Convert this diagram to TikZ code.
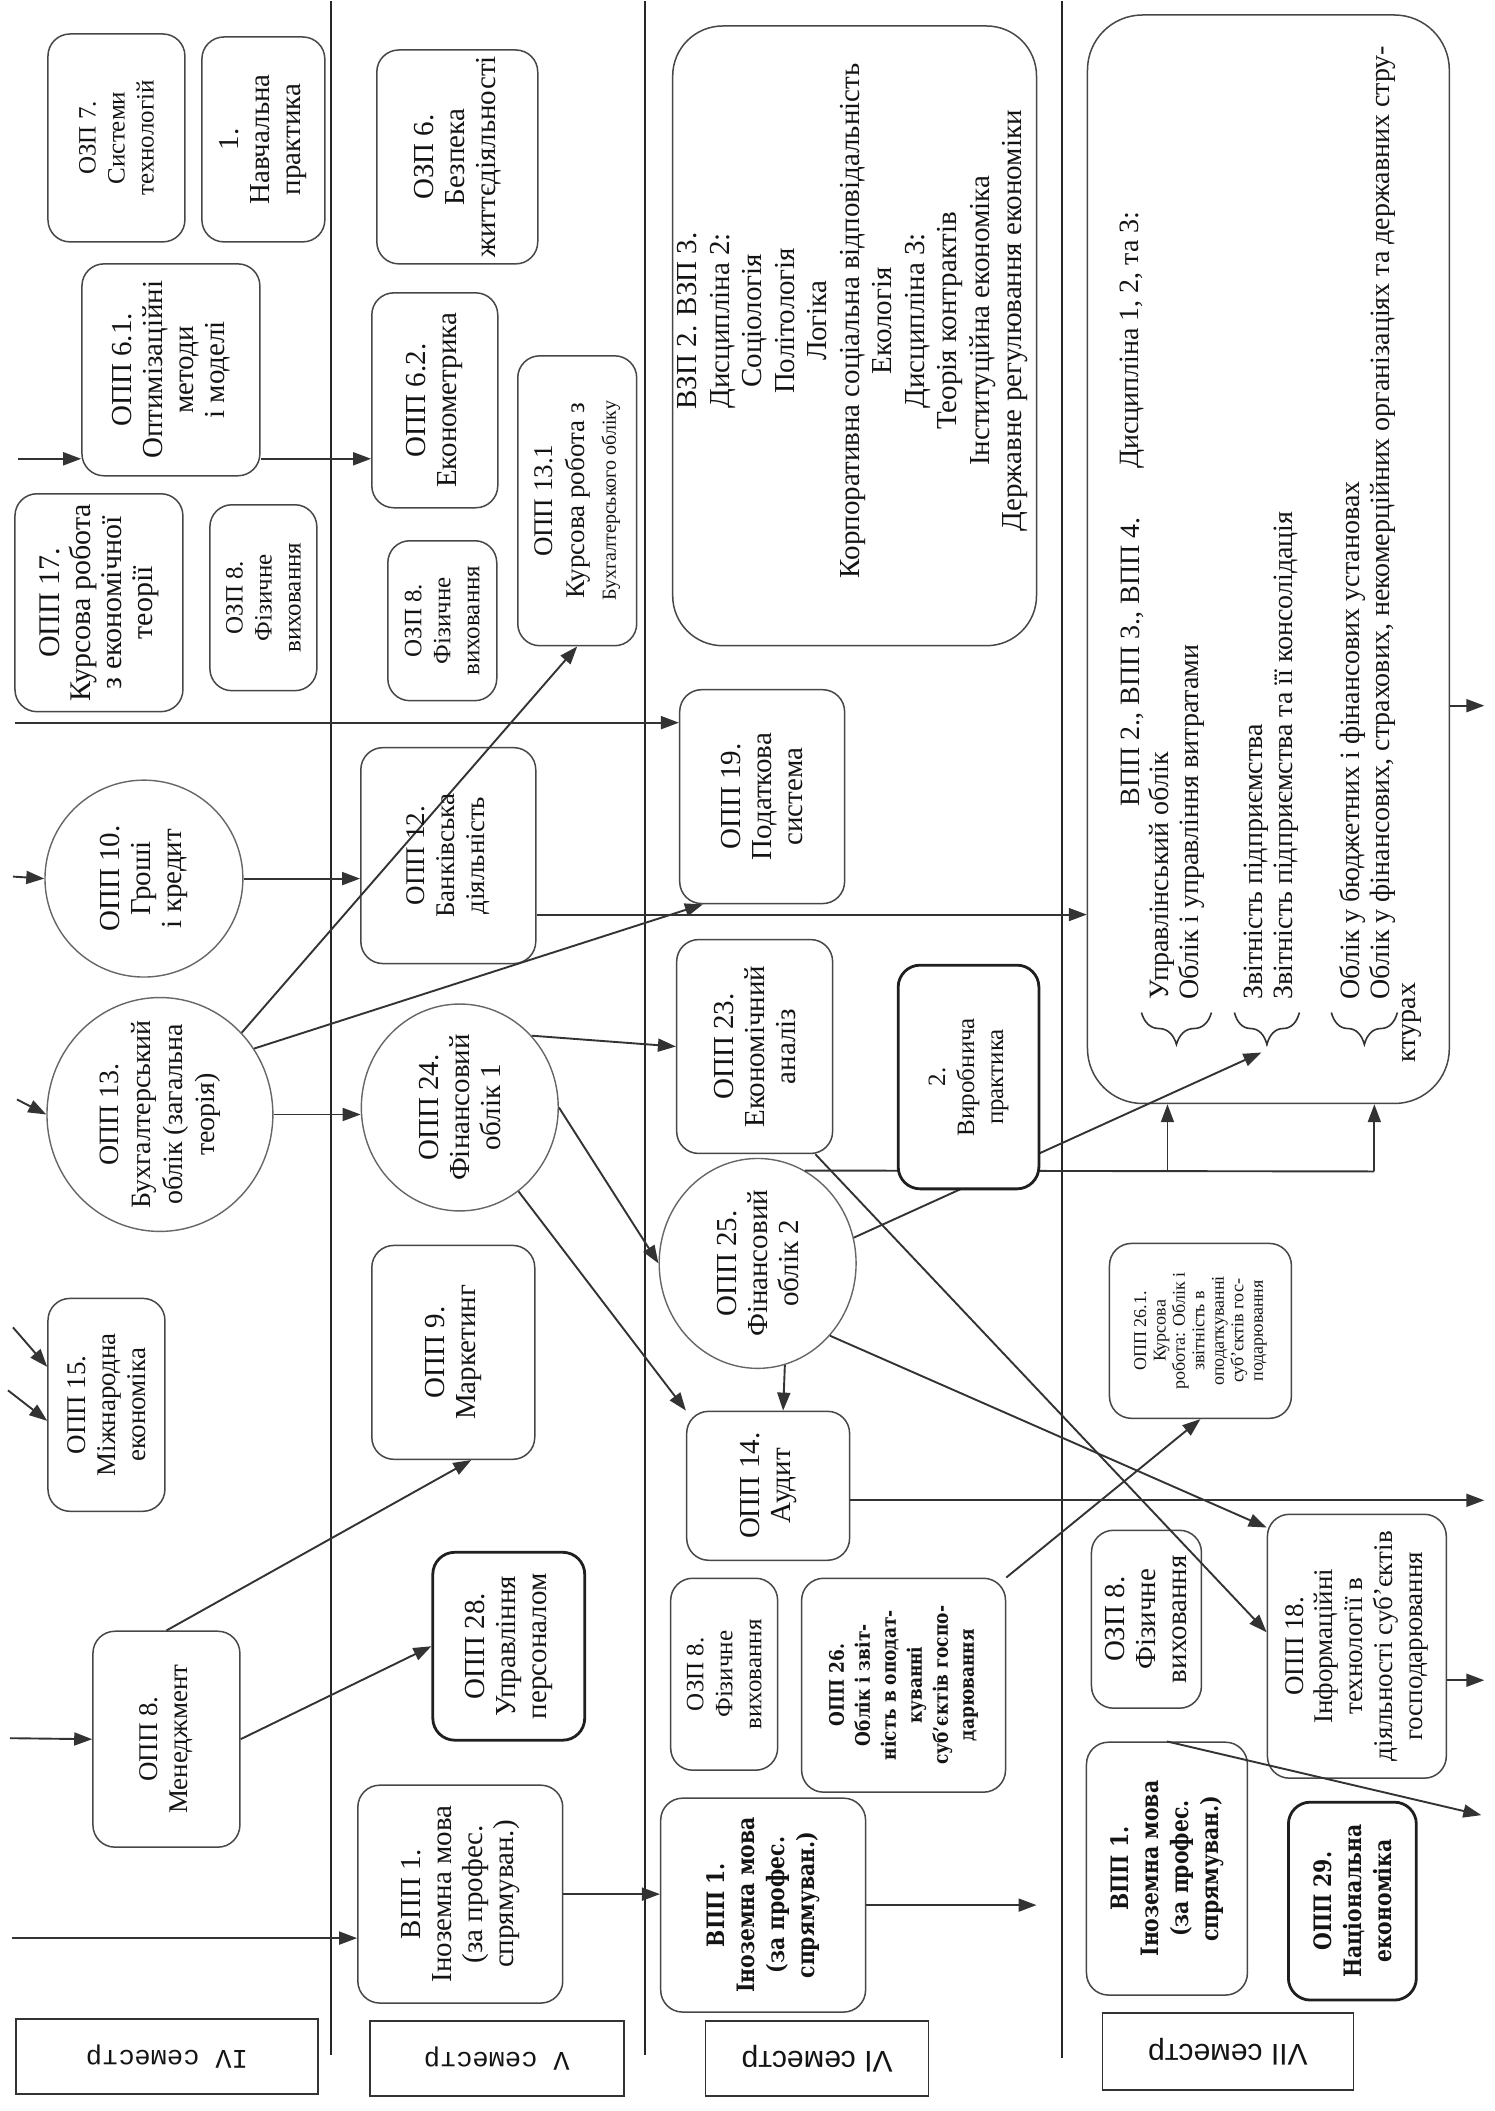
\documentclass[tikz,border=0pt]{standalone}
\usepackage{fontspec}
\setmainfont{Liberation Serif}
\newfontfamily\altbold{DejaVu Serif}[FakeStretch=0.85]
\newfontfamily\monolab{Liberation Mono}
\newfontfamily\sanslab{Liberation Sans}
\usetikzlibrary{arrows.meta,shapes.geometric,fit,decorations.pathreplacing}
\newcommand\fs[2]{\fontsize{#1}{#2}\selectfont}
\begin{document}
\begin{tikzpicture}[x=1pt,y=-1pt,
  box/.style={draw=black!72, line width=1.5pt, rounded corners=22pt, fill=white, inner sep=0pt},
  tbox/.style={box, draw=black!88, line width=2.8pt},
  ell/.style={ellipse, draw=black!60, line width=1.4pt, fill=white, inner sep=0pt},
  txt/.style={rotate=90, align=center, inner sep=0pt, text=black!92, font=\fs{29}{31}},
  stxt/.style={txt, font=\fs{25}{29}},
  mtxt/.style={txt, font=\fs{27}{30}},
  btxt/.style={txt, font=\altbold\bfseries\fs{24}{30}},
  arr/.style={draw=black!80, line width=1.9pt, -{Triangle[length=18pt,width=13pt]}},
  ln/.style={draw=black!80, line width=1.9pt},
  sep/.style={draw=black!85, line width=2pt},
  lab/.style={draw=black!80, line width=1.6pt, fill=white, inner sep=0pt},
  labt/.style={rotate=180, inner sep=0pt, text=black!92},
  brc/.style={draw=black!80, line width=1.6pt, decorate, decoration={brace, amplitude=32pt}}
]
\fill[white] (0,0) rectangle (1495,2111);
% semester dividers
\draw[sep] (331,0) -- (331,2055);
\draw[sep] (645,0) -- (645,2055);
\draw[sep] (1062,0) -- (1062,2058);

% ---------- column IV
\node[box, fit={(48,33) (185,241)}] (oz7) {};
\node[box, fit={(202,36) (325,241)}] (np1) {};
\node[box, fit={(82,263) (260,475)}] (o61) {};
\node[box, fit={(15,493) (183,711)}] (o17) {};
\node[box, fit={(210,504) (317,690)}] (oz8a) {};
\node[ell, minimum width=198pt, minimum height=197pt] (c10) at (144,878) {};
\node[ell, minimum width=226pt, minimum height=234pt] (c13) at (160,1114) {};
\node[box, fit={(48,1298) (165,1511)}] (o15) {};
\node[box, fit={(93,1631) (240,1847)}] (o8) {};
% ---------- column V
\node[box, fit={(377,49) (538,263)}] (oz6) {};
\node[box, fit={(372,292) (498,507)}] (o62) {};
\node[box, fit={(388,540) (497,700)}] (oz8b) {};
\node[box, fit={(518,355) (637,645)}] (o131) {};
\node[box, fit={(361,747) (536,963)}] (o12) {};
\node[ell, minimum width=197pt, minimum height=207pt] (c24) at (460,1107) {};
\node[box, fit={(372,1245) (535,1459)}] (o9) {};
\node[tbox, fit={(433,1552) (585,1740)}] (o28) {};
\node[box, fit={(358,1785) (563,2003)}] (v1a) {};
% ---------- column VI
\node[box, rounded corners=50pt, fit={(673,25) (1037,645)}] (vzp) {};
\node[box, fit={(680,689) (845,903)}] (o19) {};
\node[box, fit={(677,939) (833,1153)}] (o23) {};
\node[tbox, fit={(900,966) (1038,1187)}] (vp2) {};
\node[ell, minimum width=197pt, minimum height=210pt] (c25) at (758,1263) {};
\node[box, fit={(687,1411) (850,1560)}] (o14) {};
\node[box, fit={(671,1578) (778,1770)}] (oz8c) {};
\node[box, fit={(802,1578) (1006,1792)}] (o26) {};
\node[box, fit={(661,1798) (866,2012)}] (v1b) {};
% ---------- column VII
\node[box, rounded corners=55pt, fit={(1088,14) (1450,1103)}] (big) {};
\node[box, fit={(1110,1243) (1292,1418)}] (o261) {};
\node[box, fit={(1092,1530) (1202,1708)}] (oz8d) {};
\node[box, fit={(1268,1514) (1447,1778)}] (o18) {};
\node[box, fit={(1087,1742) (1248,1995)}] (v1c) {};
\node[tbox, fit={(1289,1802) (1417,2000)}] (o29) {};
% ---------- semester labels
\node[lab, fit={(16,2019) (318,2094)}] (l4) {};
\node[lab, fit={(370,2021) (624,2096)}] (l5) {};
\node[lab, fit={(706,2021) (929,2096)}] (l6) {};
\node[lab, fit={(1103,2013) (1354,2090)}] (l7) {};

% ---------- free ends and junctions
\coordinate (s1) at (18,458);
\coordinate (s2) at (15,722);
\coordinate (s3) at (13,876);
\coordinate (s4) at (17,1099);
\coordinate (s5) at (10,1738);
\coordinate (s6) at (12,1938);
\coordinate (s7) at (13,1327);
\coordinate (s8) at (8,1390);
\coordinate (e14) at (1485,1500);
\coordinate (e18) at (1485,1680);
\coordinate (eb) at (1485,705);
\coordinate (e6) at (1037,1905);
\coordinate (e7) at (1482,1815);
\coordinate (j1) at (1168,1171);
\coordinate (j2) at (1375,1171);
\coordinate (b2t) at (1262,1052);
\coordinate (h12) at ([yshift=-59pt]o12.east);
\coordinate (p19) at ([xshift=24pt]o19.south west);
\coordinate (p9) at ([xshift=18pt]o9.south);
\coordinate (p15a) at ([yshift=38pt]o15.west);
\coordinate (p15b) at ([yshift=-16pt]o15.west);
\coordinate (p14) at ([xshift=15pt]o14.north);
\coordinate (p18a) at ([yshift=-14pt]o18.north west);
\coordinate (p18b) at ([yshift=14pt]o18.west);
\coordinate (p23) at ([xshift=-18pt]o23.south east);

% ---------- connectors
\draw[arr] (s1) -- (s1 -| o61.west);
\draw[arr] (o61.east |- s1) -- (o62.west |- s1);
\draw[arr] (s2) -- (s2 -| o19.west);
\draw[arr] (s3) -- (c10.west);
\draw[arr] (c10.east) -- (c10.east -| o12.west);
\draw[arr] (s4) -- (c13.west);
\draw[arr] (c13.east) -- (c13.east -| c24.west);
\draw[arr] (c13.45) -- (o131.south);
\draw[arr] (c13.35) -- (p19);
\draw[arr] (s7) -- (p15a);
\draw[arr] (s8) -- (p15b);
\draw[arr] (s5) -- (o8.west);
\draw[arr] (o8.north) -- (p9);
\draw[arr] (o8.east) -- (o28.west);
\draw[arr] (s6) -- (s6 -| v1a.west);
\draw[arr] (v1a.east) -- (v1a.east -| v1b.west);
\draw[arr] (h12) -- (h12 -| big.west);
\draw[arr] (c24.45) -- (o23.west);
\draw[arr] (c24.east) -- (c25.west);
\draw[arr] (c24.-55) -- (o14.north west);
\draw[arr] (c25.-75) -- (p14);
\draw[arr] (c25.-45) -- (p18a);
\draw[arr] (p23) -- (p18b);
\draw[ln] (c25.63) -- (j2);
\draw[arr] (j1) -- (j1 |- big.south);
\draw[arr] (j2) -- (j2 |- big.south);
\draw[arr] (c25.15) -- (b2t);
\draw[arr] (o14.east |- e14) -- (e14);
\draw[arr] (v1b.east) -- (e6);
\draw[arr] (o26.north east) -- (o261.south);
\draw[arr] (o18.east |- e18) -- (e18);
\draw[arr] (big.east |- eb) -- (eb);
\draw[arr] (v1c.north) -- (e7);
% practice box drawn over the lines that pass behind it
\node[tbox, fit=(vp2)] (vp2top) {};

% braces in the big box
\draw[brc] (1212,1012) -- (1142,1012);
\draw[brc] (1300,1012) -- (1235,1012);
\draw[brc] (1398,1012) -- (1332,1012);

% ---------- texts
\node[stxt] (t-oz7) at (oz7.center) {ОЗП 7.\\Системи\\технологій};
\node[txt] (t-np1) at (np1.center) {1.\\Навчальна\\практика};
\node[txt] (t-o61) at (o61.center) {ОПП 6.1.\\Оптимізаційні\\методи\\і моделі};
\node[txt, font=\fs{30}{31}] (t-o17) at (o17.center) {ОПП 17.\\Курсова робота\\з економічної\\теорії};
\node[stxt] (t-oz8a) at (oz8a.center) {ОЗП 8.\\Фізичне\\виховання};
\node[txt] (t-c10) at (c10.center) {ОПП 10.\\Гроші\\і кредит};
\node[txt, font=\fs{28}{32}] (t-c13) at (c13.center) {ОПП 13.\\Бухгалтерський\\облік (загальна\\теорія)};
\node[mtxt] (t-o15) at (o15.center) {ОПП 15.\\Міжнародна\\економіка};
\node[mtxt] (t-o8) at (o8.center) {ОПП 8.\\Менеджмент};

\node[txt] (t-oz6) at (oz6.center) {ОЗП 6.\\Безпека\\життєдіяльності};
\node[txt] (t-o62) at (o62.center) {ОПП 6.2.\\Економетрика};
\node[stxt] (t-oz8b) at (oz8b.center) {ОЗП 8.\\Фізичне\\виховання};
\node[txt, font=\fs{27}{32}] (t-o131) at (o131.center) {ОПП 13.1\\Курсова робота з\\{\fs{20}{24}Бухгалтерського обліку}};
\node[mtxt] (t-o12) at (o12.center) {ОПП 12.\\Банківська\\діяльність};
\node[txt] (t-c24) at (c24.center) {ОПП 24.\\Фінансовий\\облік 1};
\node[txt] (t-o9) at (o9.center) {ОПП 9.\\Маркетинг};
\node[txt] (t-o28) at (o28.center) {ОПП 28.\\Управління\\персоналом};
\node[txt] (t-v1a) at (v1a.center) {ВПП 1.\\Іноземна мова\\(за профес.\\спрямуван.)};

\node[txt, font=\fs{29}{32.5}] (t-vzp) at (853,320) {ВЗП 2. ВЗП 3.\\Дисципліна 2:\\Соціологія\\Політологія\\Логіка\\Корпоративна соціальна відповідальність\\Екологія\\Дисципліна 3:\\Теорія контрактів\\Інституційна економіка\\Державне регулювання економіки};
\node[txt] (t-o19) at (o19.center) {ОПП 19.\\Податкова\\система};
\node[txt] (t-o23) at (o23.center) {ОПП 23.\\Економічний\\аналіз};
\node[stxt] (t-vp2) at (vp2.center) {2.\\Виробнича\\практика};
\node[txt] (t-c25) at (c25.center) {ОПП 25.\\Фінансовий\\облік 2};
\node[txt] (t-o14) at (o14.center) {ОПП 14.\\Аудит};
\node[stxt] (t-oz8c) at (oz8c.center) {ОЗП 8.\\Фізичне\\виховання};
\node[btxt, font=\altbold\bfseries\fs{20}{26}] (t-o26) at (o26.center) {ОПП 26.\\Облік і звіт-\\ність в оподат-\\куванні\\суб’єктів госпо-\\дарювання};
\node[btxt] (t-v1b) at (v1b.center) {ВПП 1.\\Іноземна мова\\(за профес.\\спрямуван.)};

\node[txt, anchor=west, font=\fs{28}{30}] (bt1) at (1133,806) {ВПП 2., ВПП 3., ВПП 4.};
\node[txt, anchor=west, font=\fs{28}{30}] (bt1b) at (1133,468) {Дисципліна 1, 2, та 3:};
\node[txt, anchor=west, font=\fs{28}{30}] (bt2) at (1162,999) {Управлінський облік};
\node[txt, anchor=west, font=\fs{28}{30}] (bt3) at (1192,999) {Облік і управління витратами};
\node[txt, anchor=west, font=\fs{28}{30}] (bt4) at (1257,999) {Звітність підприємства};
\node[txt, anchor=west, font=\fs{28}{30}] (bt5) at (1287,999) {Звітність підприємства та її консолідація};
\node[txt, anchor=west, font=\fs{28}{30}] (bt6) at (1353,999) {Облік у бюджетних і фінансових установах};
\node[txt, anchor=west, font=\fs{28}{30}] (bt7) at (1383,999) {Облік у фінансових, страхових, некомерційних організаціях та державних стру-};
\node[txt, anchor=west, font=\fs{28}{30}] (bt8) at (1413,1062) {ктурах};
\node[txt, font=\fs{18}{19.5}] (t-o261) at (o261.center) {ОПП 26.1.\\Курсова\\робота: Облік і\\звітність в\\оподаткуванні\\суб’єктів гос-\\подарювання};
\node[txt] (t-oz8d) at (oz8d.center) {ОЗП 8.\\Фізичне\\виховання};
\node[txt, font=\fs{27}{30}] (t-o18) at (o18.center) {ОПП 18.\\Інформаційні\\технології в\\діяльності суб’єктів\\господарювання};
\node[btxt] (t-v1c) at (v1c.center) {ВПП 1.\\Іноземна мова\\(за профес.\\спрямуван.)};
\node[btxt] (t-o29) at (o29.center) {ОПП 29.\\Національна\\економіка};

\node[labt, font=\monolab\fs{27}{30}] (t-l4) at (l4.center) {IV семестр};
\node[labt, font=\monolab\fs{27}{30}] (t-l5) at (l5.center) {V семестр};
\node[labt, font=\sanslab\fs{30}{32}] (t-l6) at (l6.center) {VI семестр};
\node[labt, font=\sanslab\fs{30}{32}] (t-l7) at (l7.center) {VII семестр};
\end{tikzpicture}
\end{document}
